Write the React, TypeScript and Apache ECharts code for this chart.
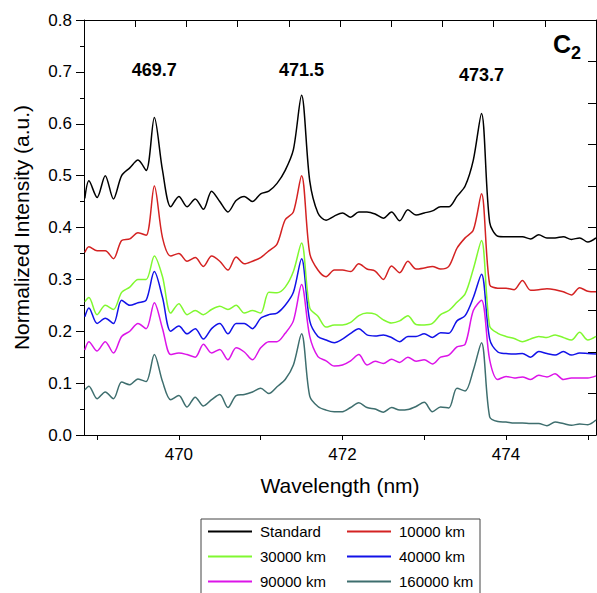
import React, { useEffect, useRef } from "react";
import * as echarts from "echarts";

// Wavelength grid (nm)
const wavelengths = [
  468.85, 468.9, 469.0, 469.1, 469.2, 469.3, 469.4, 469.5, 469.6, 469.7,
  469.8, 469.9, 470.0, 470.1, 470.2, 470.3, 470.4, 470.5, 470.6, 470.7,
  470.8, 470.9, 471.0, 471.1, 471.2, 471.3, 471.4, 471.5, 471.6, 471.7,
  471.8, 471.9, 472.0, 472.1, 472.2, 472.3, 472.4, 472.5, 472.6, 472.7,
  472.8, 472.9, 473.0, 473.1, 473.2, 473.3, 473.4, 473.5, 473.6, 473.7,
  473.8, 473.9, 474.0, 474.1, 474.2, 474.3, 474.4, 474.5, 474.6, 474.7,
  474.8, 474.9, 475.0, 475.1,
];

const standard = [
  0.456, 0.490, 0.458, 0.500, 0.455, 0.500, 0.515, 0.530, 0.510, 0.612,
  0.510, 0.440, 0.460, 0.440, 0.455, 0.435, 0.470, 0.450, 0.430, 0.452,
  0.460, 0.450, 0.465, 0.470, 0.485, 0.510, 0.550, 0.655, 0.490, 0.428,
  0.414, 0.422, 0.428, 0.420, 0.430, 0.430, 0.426, 0.418, 0.430, 0.413,
  0.434, 0.424, 0.428, 0.432, 0.440, 0.440, 0.460, 0.480, 0.530, 0.620,
  0.410, 0.383, 0.382, 0.382, 0.382, 0.378, 0.386, 0.380, 0.380, 0.382,
  0.377, 0.380, 0.372, 0.380,
];

const km10000 = [
  0.352, 0.363, 0.355, 0.355, 0.340, 0.375, 0.378, 0.390, 0.385, 0.480,
  0.380, 0.345, 0.350, 0.335, 0.342, 0.325, 0.345, 0.335, 0.318, 0.343,
  0.330, 0.335, 0.342, 0.355, 0.368, 0.415, 0.430, 0.500, 0.350, 0.318,
  0.305, 0.318, 0.318, 0.315, 0.330, 0.320, 0.316, 0.300, 0.326, 0.313,
  0.335, 0.320, 0.322, 0.325, 0.320, 0.325, 0.360, 0.380, 0.395, 0.465,
  0.290, 0.283, 0.283, 0.280, 0.298, 0.279, 0.280, 0.282, 0.280, 0.276,
  0.270, 0.284, 0.277, 0.276,
];

const km30000 = [
  0.257, 0.265, 0.232, 0.250, 0.242, 0.275, 0.285, 0.300, 0.300, 0.345,
  0.305, 0.235, 0.253, 0.232, 0.240, 0.232, 0.242, 0.248, 0.242, 0.250,
  0.235, 0.240, 0.235, 0.275, 0.274, 0.285, 0.315, 0.370, 0.245, 0.229,
  0.208, 0.212, 0.212, 0.217, 0.230, 0.235, 0.233, 0.222, 0.216, 0.220,
  0.230, 0.213, 0.212, 0.215, 0.232, 0.240, 0.256, 0.272, 0.320, 0.375,
  0.210, 0.196, 0.190, 0.186, 0.180, 0.185, 0.190, 0.188, 0.193, 0.188,
  0.183, 0.198, 0.183, 0.190,
];

const km40000 = [
  0.228, 0.245, 0.215, 0.225, 0.215, 0.260, 0.250, 0.255, 0.260, 0.315,
  0.265, 0.200, 0.210, 0.195, 0.205, 0.185, 0.205, 0.215, 0.195, 0.215,
  0.215, 0.205, 0.225, 0.232, 0.235, 0.250, 0.275, 0.340, 0.220, 0.190,
  0.183, 0.178, 0.185, 0.196, 0.205, 0.193, 0.191, 0.193, 0.188, 0.180,
  0.190, 0.190, 0.195, 0.188, 0.197, 0.196, 0.220, 0.230, 0.265, 0.310,
  0.185, 0.160, 0.157, 0.156, 0.157, 0.150, 0.161, 0.157, 0.154, 0.161,
  0.154, 0.158, 0.157, 0.156,
];

const km90000 = [
  0.164, 0.180, 0.162, 0.180, 0.158, 0.190, 0.200, 0.215, 0.205, 0.255,
  0.205, 0.155, 0.158, 0.155, 0.150, 0.175, 0.158, 0.165, 0.145, 0.168,
  0.160, 0.145, 0.168, 0.180, 0.180, 0.196, 0.220, 0.290, 0.190, 0.151,
  0.143, 0.133, 0.135, 0.143, 0.155, 0.135, 0.142, 0.138, 0.146, 0.140,
  0.150, 0.142, 0.145, 0.137, 0.150, 0.154, 0.170, 0.175, 0.240, 0.260,
  0.145, 0.107, 0.113, 0.110, 0.112, 0.107, 0.115, 0.112, 0.118, 0.107,
  0.110, 0.110, 0.110, 0.114,
];

const km160000 = [
  0.087, 0.094, 0.070, 0.083, 0.070, 0.102, 0.097, 0.108, 0.103, 0.155,
  0.103, 0.068, 0.076, 0.054, 0.073, 0.056, 0.068, 0.078, 0.053, 0.076,
  0.078, 0.083, 0.090, 0.080, 0.093, 0.107, 0.135, 0.195, 0.075, 0.055,
  0.048, 0.045, 0.045, 0.053, 0.062, 0.053, 0.050, 0.044, 0.053, 0.048,
  0.049, 0.055, 0.063, 0.045, 0.054, 0.052, 0.090, 0.085, 0.125, 0.178,
  0.035, 0.026, 0.025, 0.023, 0.023, 0.022, 0.022, 0.018, 0.025, 0.022,
  0.019, 0.021, 0.020, 0.029,
];

const seriesNames = ["Standard", "10000 km", "30000 km", "40000 km", "90000 km", "160000 km"];
const seriesValues = [standard, km10000, km30000, km40000, km90000, km160000];
const seriesColors = ["#000000", "#d42222", "#80f830", "#1212e8", "#dc14e8", "#3e6e6e"];

const peakWavelengths = [469.7, 471.5, 473.7];
const peakLabels = ["469.7", "471.5", "473.7"];
const peakLabelHeights = [0.703, 0.703, 0.694];

const xTickValues = [469, 470, 471, 472, 473, 474, 475];
const xLabelValues = [470, 472, 474];

const FONT = "'Liberation Sans', Arial, Helvetica, sans-serif";

export default function App() {
  const ref = useRef<HTMLDivElement>(null);

  useEffect(() => {
    if (!ref.current) return;
    const chart = echarts.init(ref.current, undefined, { renderer: "svg" });

    const lineSeries = seriesNames.map((name, i) => ({
      name,
      type: "line",
      xAxisIndex: 0,
      yAxisIndex: 0,
      data: wavelengths.map((w, j) => [w, seriesValues[i][j]]),
      symbol: "none",
      showSymbol: false,
      smooth: 0.3,
      lineStyle: { color: seriesColors[i], width: 1.5 },
      itemStyle: { color: seriesColors[i] },
      z: 10 - i,
    }));

    const labelSeries = {
      name: "peaks",
      type: "scatter",
      xAxisIndex: 0,
      yAxisIndex: 0,
      symbolSize: 0.1,
      itemStyle: { color: "#000", opacity: 1 },
      silent: true,
      data: peakWavelengths.map((w, i) => [w, peakLabelHeights[i]]),
      label: {
        show: true,
        position: "inside",
        formatter: (p: any) => peakLabels[p.dataIndex],
        fontFamily: FONT,
        fontWeight: "bold",
        fontSize: 18,
        color: "#000",
        textBorderWidth: 0,
      },
      z: 20,
    };

    const legendCommon = {
      orient: "vertical",
      icon: "rect",
      itemWidth: 44,
      itemHeight: 2,
      itemGap: 10,
      top: 524,
      height: 90,
      padding: 0,
      selectedMode: false,
      textStyle: { fontFamily: FONT, fontSize: 15, color: "#000", padding: [0, 0, 0, 3] },
    };

    const option: any = {
      animation: false,
      backgroundColor: "#ffffff",
      textStyle: { fontFamily: FONT },
      grid: { left: 84, right: 1, top: 20, bottom: 158, containLabel: false },
      xAxis: [
        {
          type: "value",
          min: 468.84,
          max: 475.1,
          position: "bottom",
          axisLine: { show: true, onZero: false, lineStyle: { color: "#000", width: 1 } },
          axisTick: { show: true, inside: false, length: 5, customValues: xTickValues, lineStyle: { color: "#000" } },
          axisLabel: {
            customValues: xLabelValues,
            fontSize: 17,
            color: "#000",
            margin: 11,
            fontFamily: FONT,
            formatter: (v: number) => String(v),
          },
          splitLine: { show: false },
          name: "Wavelength (nm)",
          nameLocation: "middle",
          nameGap: 40,
          nameTextStyle: { fontSize: 21, color: "#000", fontFamily: FONT },
        },
        {
          type: "value",
          min: 0,
          max: 10,
          interval: 1,
          position: "top",
          axisLine: { show: true, onZero: false, lineStyle: { color: "#000", width: 1 } },
          axisTick: { show: true, inside: true, length: 7, lineStyle: { color: "#000" } },
          axisLabel: { show: false },
          splitLine: { show: false },
        },
      ],
      yAxis: [
        {
          type: "value",
          min: 0,
          max: 0.8,
          interval: 0.1,
          position: "left",
          axisLine: { show: true, onZero: false, lineStyle: { color: "#000", width: 1 } },
          axisTick: { show: true, inside: false, length: 8, lineStyle: { color: "#000" } },
          minorTick: { show: true, splitNumber: 2, length: 4, lineStyle: { color: "#000" } },
          axisLabel: {
            fontSize: 17,
            color: "#000",
            margin: 12,
            fontFamily: FONT,
            formatter: (v: number) => v.toFixed(1),
          },
          splitLine: { show: false },
          minorSplitLine: { show: false },
          name: "Normalized Intensity (a.u.)",
          nameLocation: "middle",
          nameGap: 52,
          nameTextStyle: { fontSize: 21, color: "#000", fontFamily: FONT },
        },
        {
          type: "value",
          min: 0,
          max: 10,
          interval: 1,
          position: "right",
          axisLine: { show: true, onZero: false, lineStyle: { color: "#000", width: 1 } },
          axisTick: { show: true, inside: true, length: 8, lineStyle: { color: "#000" } },
          axisLabel: { show: false },
          splitLine: { show: false },
        },
      ],
      legend: [
        { ...legendCommon, left: 208, data: [seriesNames[0], seriesNames[2], seriesNames[4]] },
        { ...legendCommon, left: 347, data: [seriesNames[1], seriesNames[3], seriesNames[5]] },
      ],
      graphic: [
        {
          type: "rect",
          shape: { x: 201, y: 519, width: 279, height: 90 },
          style: { fill: "none", stroke: "#444", lineWidth: 1 },
          silent: true,
        },
        {
          type: "text",
          x: 553,
          y: 44,
          style: {
            text: "C",
            fontFamily: FONT,
            fontWeight: "bold",
            fontSize: 25,
            fill: "#000",
            verticalAlign: "middle",
            align: "left",
          },
        },
        {
          type: "text",
          x: 571,
          y: 53,
          style: {
            text: "2",
            fontFamily: FONT,
            fontWeight: "bold",
            fontSize: 18,
            fill: "#000",
            verticalAlign: "middle",
            align: "left",
          },
        },
      ],
      series: [...lineSeries, labelSeries],
    };

    chart.setOption(option);
    return () => chart.dispose();
  }, []);

  return (
    <div
      ref={ref}
      style={{ position: "absolute", left: 0, top: 0, width: 597, height: 593, background: "#fff" }}
    />
  );
}
